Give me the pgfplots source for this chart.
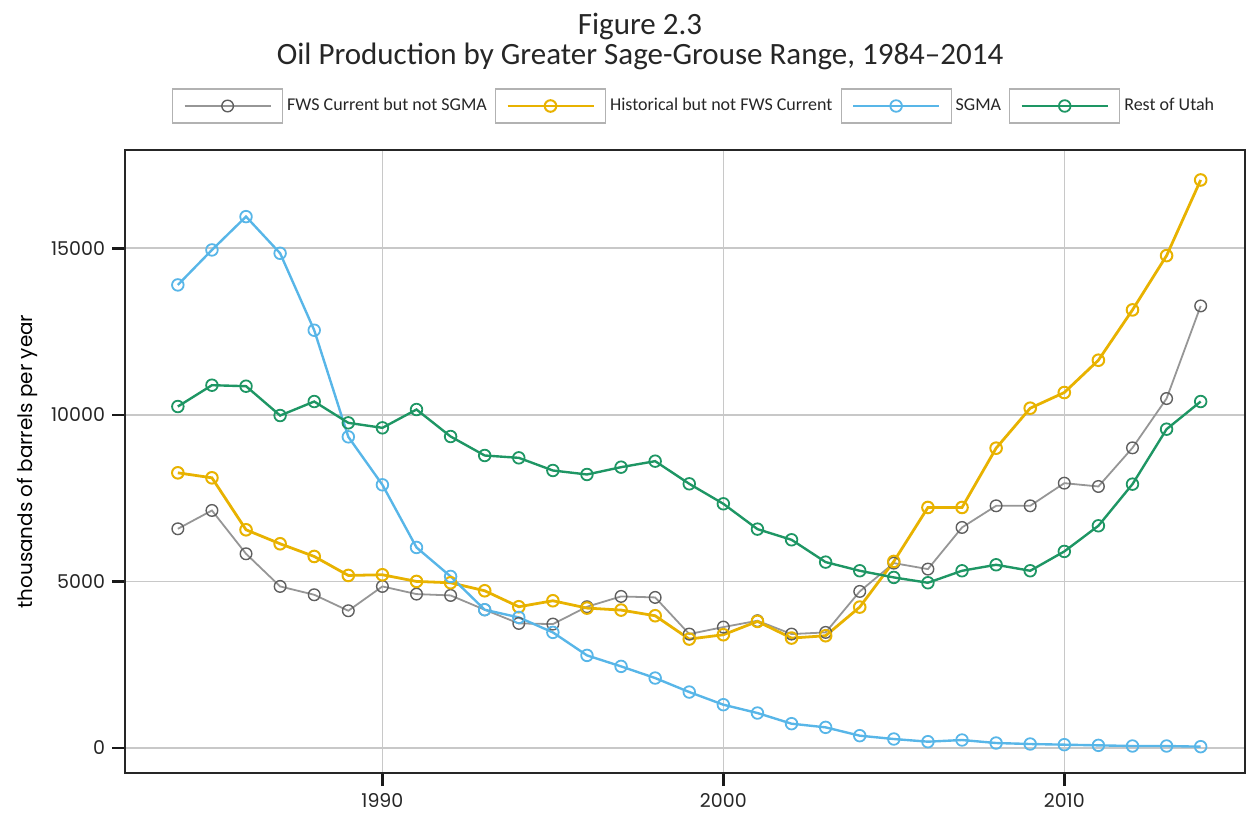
\documentclass[border=0pt]{standalone}
\usepackage{pgfplots}
\pgfplotsset{compat=1.18}
\usepackage{pgfplotstable}
\usepackage{fontspec}
\setmainfont{Poppins}
\newfontfamily\titlefont{Carlito}
\definecolor{cgray}{RGB}{150,150,150}
\definecolor{cgraymk}{RGB}{95,95,95}
\definecolor{cyellow}{RGB}{232,178,0}
\definecolor{cblue}{RGB}{88,182,232}
\definecolor{cgreen}{RGB}{30,150,100}
\definecolor{cgrid}{RGB}{200,200,200}

\pgfplotstableread{
Year FWS Hist SGMA Rest
1984 6580 8260 13900 10250
1985 7130 8110 14950 10890
1986 5830 6550 15950 10860
1987 4850 6130 14850 9980
1988 4600 5750 12540 10400
1989 4120 5180 9340 9760
1990 4850 5200 7900 9610
1991 4620 5000 6020 10160
1992 4580 4960 5150 9350
1993 4150 4720 4150 8780
1994 3740 4240 3920 8710
1995 3720 4420 3470 8330
1996 4240 4200 2780 8210
1997 4550 4140 2450 8430
1998 4520 3970 2100 8610
1999 3420 3270 1680 7930
2000 3630 3400 1300 7330
2001 3820 3800 1050 6570
2002 3420 3300 730 6250
2003 3470 3370 620 5580
2004 4700 4230 370 5320
2005 5550 5600 270 5120
2006 5370 7220 190 4960
2007 6620 7220 240 5320
2008 7270 9000 150 5500
2009 7270 10200 120 5320
2010 7950 10670 100 5900
2011 7850 11640 80 6670
2012 9010 13150 60 7920
2013 10490 14780 60 9570
2014 13270 17050 40 10400
}\datatable

\begin{document}
\begin{tikzpicture}
\begin{axis}[
  at={(0,0)}, anchor=south west,
  scale only axis,
  width=560bp, height=311.5bp,
  xmin=1982.45, xmax=2015.3,
  ymin=-750, ymax=17950,
  xtick={1990,2000,2010},
  ytick={0,5000,10000,15000},
  /pgf/number format/assume math mode=true,
  xticklabel style={/pgf/number format/set thousands separator={}, font=\fontsize{9.5bp}{11bp}\selectfont, text=black!85},
  yticklabel style={/pgf/number format/set thousands separator={}, font=\fontsize{9.5bp}{11bp}\selectfont, text=black!85},
  scaled y ticks=false,
  grid=major,
  grid style={color=cgrid, line width=0.8pt},
  axis line style={black!85, line width=0.8pt},
  tick align=outside,
  major tick length=6.5bp,
  tick style={black!90, line width=1.3pt},
  xtick pos=bottom, ytick pos=left,
  ylabel={thousands of barrels per year},
  ylabel style={font=\fontsize{9.5bp}{11bp}\selectfont, text=black!85},
  every axis y label/.style={at={(ticklabel cs:0.5)}, rotate=90, anchor=near ticklabel},
  legend columns=4,
  legend style={draw=none, fill=none, at={(0.509,1.0)}, anchor=south, yshift=13bp,
    font=\titlefont\fontsize{9bp}{10bp}\selectfont, text=black!85,
    /tikz/every even column/.append style={column sep=2bp},
    /tikz/every odd column/.append style={column sep=0bp},
    inner sep=0pt},
  legend image code/.code={
    \draw[draw=black!30, line width=0.6pt, fill=white, mark=none, solid] (0bp,-8.5bp) rectangle (55bp,8.5bp);
    \draw[mark repeat=2, mark phase=2, #1] plot coordinates {(6bp,0bp) (27.5bp,0bp) (49bp,0bp)};
  },
  clip=false,
]
\addplot[color=cgray, line width=0.9pt, mark=o, mark size=2.9bp, mark options={draw=cgraymk, line width=0.7pt}] table[x=Year, y=FWS] {\datatable};
\addlegendentry{FWS Current but not SGMA}
\addplot[color=cyellow, line width=1.4pt, mark=o, mark size=2.9bp, mark options={line width=1.0pt}] table[x=Year, y=Hist] {\datatable};
\addlegendentry{Historical but not FWS Current}
\addplot[color=cblue, line width=1.2pt, mark=o, mark size=2.9bp, mark options={line width=0.9pt}] table[x=Year, y=SGMA] {\datatable};
\addlegendentry{SGMA}
\addplot[color=cgreen, line width=1.2pt, mark=o, mark size=2.9bp, mark options={line width=0.9pt}] table[x=Year, y=Rest] {\datatable};
\addlegendentry{Rest of Utah}
\end{axis}
\node[inner sep=0pt, font=\titlefont\fontsize{15.5bp}{17bp}\selectfont, text=black!85] at (257.5bp,373bp) {Figure 2.3};
\node[inner sep=0pt, font=\titlefont\fontsize{15.5bp}{17bp}\selectfont, text=black!85] at (257.5bp,358.5bp) {Oil Production by Greater Sage-Grouse Range, 1984–2014};
\pgfresetboundingbox
\path[use as bounding box] (-62.5bp,-22.5bp) rectangle (564bp,386.5bp);
\end{tikzpicture}
\end{document}
